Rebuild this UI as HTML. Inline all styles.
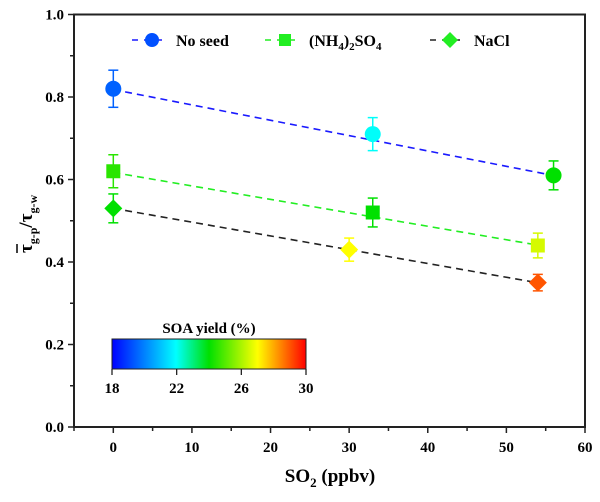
<!DOCTYPE html>
<html><head><meta charset="utf-8"><style>
html,body{margin:0;padding:0;background:#fff;}
svg{display:block;}
svg text{font-family:"Liberation Serif","DejaVu Serif",serif;font-weight:bold;}
</style></head><body>
<svg id="chart" width="600" height="502" viewBox="0 0 600 502">
<defs>
<linearGradient id="cb" x1="0" x2="1" y1="0" y2="0">
<stop offset="0" stop-color="#0000ff"/><stop offset="0.33" stop-color="#00ffff"/>
<stop offset="0.5" stop-color="#00e000"/><stop offset="0.75" stop-color="#ffff00"/>
<stop offset="1" stop-color="#ff0000"/>
</linearGradient>
</defs>
<g id="axes"></g>
<g id="marks"></g>
<g id="legend"></g>
</svg>
<script>
const xTicks=[0,10,20,30,40,50,60];
const yTicks=[0.0,0.2,0.4,0.6,0.8,1.0];
const seriesNames=["No seed","(NH4)2SO4","NaCl"];
const noSeedX=[0,33,56], noSeedY=[0.82,0.71,0.61], noSeedErr=[0.045,0.04,0.035], noSeedYield=[19.5,22,24];
const amsX=[0,33,54], amsY=[0.62,0.52,0.44], amsErr=[0.04,0.035,0.03], amsYield=[24.5,24,26.5];
const naclX=[0,30,54], naclY=[0.53,0.43,0.35], naclErr=[0.035,0.028,0.02], naclYield=[24,27,29];
const noSeedFit=[0.818,-0.00372], amsFit=[0.617,-0.00326], naclFit=[0.53,-0.00334];
const cbTicks=[18,22,26,30];

const NS="http://www.w3.org/2000/svg";
const X0=74,X1=585,Y0=427,Y1=14.5,xmin=-5,xmax=60,ymin=0,ymax=1;
const sx=v=>X0+(v-xmin)/(xmax-xmin)*(X1-X0);
const sy=v=>Y0-(v-ymin)/(ymax-ymin)*(Y0-Y1);
function mk(tag,attrs,parent,text){const e=document.createElementNS(NS,tag);for(const k in attrs)e.setAttribute(k,attrs[k]);if(text!==undefined)e.textContent=text;parent.appendChild(e);return e;}
function cmap(v){const t=Math.max(0,Math.min(1,(v-18)/12));
 const st=[[0,0,0,255],[0.33,0,255,255],[0.5,0,224,0],[0.75,255,255,0],[1,255,0,0]];
 for(let i=1;i<st.length;i++){if(t<=st[i][0]){const a=st[i-1],b=st[i],f=(t-a[0])/(b[0]-a[0]);return `rgb(${Math.round(a[1]+f*(b[1]-a[1]))},${Math.round(a[2]+f*(b[2]-a[2]))},${Math.round(a[3]+f*(b[3]-a[3]))})`;}}return "red";}
const axes=document.getElementById('axes'),marks=document.getElementById('marks'),leg=document.getElementById('legend');

const frame=mk('rect',{x:X0,y:Y1,width:X1-X0,height:Y0-Y1,fill:'none',stroke:'#222','stroke-width':2},axes);

for(let v=-5;v<=60;v+=5){const major=v%10===0;mk('line',{x1:sx(v),x2:sx(v),y1:Y0,y2:Y0+(major?6:4),stroke:'#222','stroke-width':1.5},axes);}
xTicks.forEach(v=>{const t=mk('text',{x:sx(v),y:Y0+25,'text-anchor':'middle','font-size':15},axes,String(v));
});
for(let v=0;v<=1.001;v+=0.1){const major=Math.round(v*10)%2===0;mk('line',{x1:X0,x2:X0-(major?6:4),y1:sy(v),y2:sy(v),stroke:'#222','stroke-width':1.5},axes);}
yTicks.forEach(v=>{const t=mk('text',{x:X0-10,y:sy(v)+5,'text-anchor':'end','font-size':15},axes,v.toFixed(1));
});
const xt=mk('text',{x:330,y:482,'text-anchor':'middle','font-size':19},axes);

xt.innerHTML='SO<tspan font-size="13" dy="5">2</tspan><tspan dy="-5"> (ppbv)</tspan>';
const yg=mk('g',{transform:'translate(32,215) rotate(-90)'},axes);

const yt=mk('text',{x:-38,y:0,'text-anchor':'start','font-size':19},yg);

yt.innerHTML='τ<tspan font-size="12" dy="5">g-p</tspan><tspan dy="-5">/τ</tspan><tspan font-size="12" dy="5">g-w</tspan>';
const ob=mk('line',{x1:-38,x2:-29,y1:-15,y2:-15,stroke:'#000','stroke-width':1.5},yg);


const lineColors=['#1a1aff','#22ee22','#222'];
const all=[[noSeedX,noSeedY,noSeedErr,noSeedYield,noSeedFit,'circle'],[amsX,amsY,amsErr,amsYield,amsFit,'square'],[naclX,naclY,naclErr,naclYield,naclFit,'diamond']];
function marker(shape,cx,cy,col,parent,size){
 if(shape==='circle')return mk('circle',{cx:cx,cy:cy,r:size||8,fill:col},parent);
 if(shape==='square'){const s=size||7;return mk('rect',{x:cx-s,y:cy-s,width:2*s,height:2*s,fill:col},parent);}
 const s=size||9;return mk('polygon',{points:`${cx},${cy-s} ${cx+s},${cy} ${cx},${cy+s} ${cx-s},${cy}`,fill:col},parent);}
all.forEach((s,i)=>{const [xs,ys,es,yl,fit,shape]=s;
 const xe=xs[xs.length-1];
 const fl=mk('line',{x1:sx(xs[0]),y1:sy(fit[0]+fit[1]*xs[0]),x2:sx(xe),y2:sy(fit[0]+fit[1]*xe),stroke:lineColors[i],'stroke-width':1.6,'stroke-dasharray':'7,5'},marks);
 
 xs.forEach((x,j)=>{const col=cmap(yl[j]);const cx=sx(x);
  const g=mk('g',{},marks);
  
  mk('line',{x1:cx,x2:cx,y1:sy(ys[j]+es[j]),y2:sy(ys[j]-es[j]),stroke:col,'stroke-width':1.5},g);
  mk('line',{x1:cx-5,x2:cx+5,y1:sy(ys[j]+es[j]),y2:sy(ys[j]+es[j]),stroke:col,'stroke-width':1.5},g);
  mk('line',{x1:cx-5,x2:cx+5,y1:sy(ys[j]-es[j]),y2:sy(ys[j]-es[j]),stroke:col,'stroke-width':1.5},g);
  const m=marker(shape,cx,sy(ys[j]),col,marks);
  });});

const legX=[132,265,430],legCols=['#0050ff','#22ee22','#22ee22'],legShapes=['circle','square','diamond'];
legX.forEach((lx,i)=>{const g=mk('g',{},leg);
 
 mk('line',{x1:lx,x2:lx+36,y1:40,y2:40,stroke:lineColors[i],'stroke-width':1.5,'stroke-dasharray':'6,6'},g);
 marker(legShapes[i],lx+20,40,legCols[i],g,legShapes[i]==='circle'?7:legShapes[i]==='square'?6:8);
 const t=mk('text',{x:lx+44,y:46,'font-size':16},g);
 if(i===1)t.innerHTML='(NH<tspan font-size="11" dy="4">4</tspan><tspan dy="-4">)</tspan><tspan font-size="11" dy="4">2</tspan><tspan dy="-4">SO</tspan><tspan font-size="11" dy="4">4</tspan>';
 else t.textContent=seriesNames[i];});

const cbx0=112,cbx1=306;
const cbt=mk('text',{x:(cbx0+cbx1)/2,y:333,'text-anchor':'middle','font-size':15},leg,'SOA yield (%)');

const cb=mk('rect',{x:cbx0,y:339,width:cbx1-cbx0,height:30,fill:'url(#cb)',stroke:'#222','stroke-width':1},leg);

cbTicks.forEach(v=>{const x=cbx0+(v-18)/12*(cbx1-cbx0);
 mk('line',{x1:x,x2:x,y1:369,y2:375,stroke:'#222','stroke-width':1.3},leg);
 const t=mk('text',{x:x,y:393,'text-anchor':'middle','font-size':15},leg,String(v));
 });
</script>
</body></html>
